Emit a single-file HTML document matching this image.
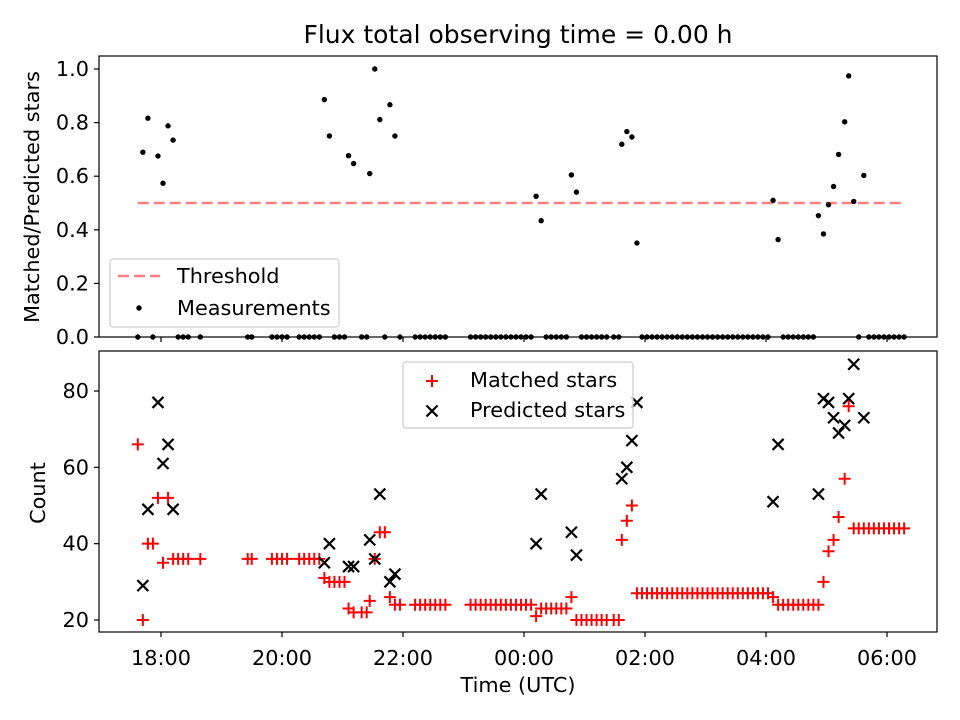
<!DOCTYPE html>
<html><head><meta charset="utf-8">
<style>
body{margin:0;background:#fff;}
svg{display:block;font-family:"DejaVu Sans","Liberation Sans",sans-serif;}
</style></head>
<body>
<svg id="chart" width="960" height="720" viewBox="0 0 960 720">
<rect x="0" y="0" width="960" height="720" fill="#fff"/>
<text x="518" y="43" font-size="25" text-anchor="middle">Flux total observing time = 0.00 h</text>
<g id="top-plot"></g>
<g id="bottom-plot"></g>
<text transform="translate(39,197) rotate(-90)" font-size="20.8" text-anchor="middle">Matched/Predicted stars</text>
<text transform="translate(45,493) rotate(-90)" font-size="20.8" text-anchor="middle">Count</text>
<text x="518" y="692" font-size="20.8" text-anchor="middle">Time (UTC)</text>
</svg>
<script>
// minutes relative to 18:00 UTC
const times = [
 -23,-18,-13,-8,-3,2,7,12,17,22,27,39,
 86,90,110,115,120,125,137,142,147,152,157,
 162,167,172,177,182,186,191,199,204,207,212,217,222,227,232,237,
 252,257,262,267,272,277,282,
 307,312,317,322,327,332,337,342,347,352,357,362,367,
 372,377,382,387,392,397,402,407,412,
 417,422,427,432,437,442,449,454,
 457,462,467,472,
 477,482,487,492,497,502,507,512,517,522,527,532,537,542,547,552,557,562,567,572,577,582,587,592,597,602,
 607,612,617,622,627,632,637,642,647,
 652,657,662,667,672,678,682,687,692,697,
 702,707,712,717,722,727,732,737];
const matched = [
 66,20,40,40,52,35,52,36,36,36,36,36,
 36,36,36,36,36,36,36,36,36,36,36,
 31,30,30,30,30,23,22,22,22,25,36,43,43,26,24,24,
 24,24,24,24,24,24,24,
 24,24,24,24,24,24,24,24,24,24,24,24,24,
 21,23,23,23,23,23,23,26,20,
 20,20,20,20,20,20,20,20,
 41,46,50,27,
 27,27,27,27,27,27,27,27,27,27,27,27,27,27,27,27,27,27,27,27,27,27,27,27,27,27,
 26,24,24,24,24,24,24,24,24,
 24,30,38,41,47,57,76,44,44,44,
 44,44,44,44,44,44,44,44];
// 0 = no prediction (ratio recorded as 0)
const predicted = [
 0,29,49,0,77,61,66,49,0,0,0,0,
 0,0,0,0,0,0,0,0,0,0,0,
 35,40,0,0,0,34,34,0,0,41,36,53,0,30,32,0,
 0,0,0,0,0,0,0,
 0,0,0,0,0,0,0,0,0,0,0,0,0,
 40,53,0,0,0,0,0,43,37,
 0,0,0,0,0,0,0,0,
 57,60,67,77,
 0,0,0,0,0,0,0,0,0,0,0,0,0,0,0,0,0,0,0,0,0,0,0,0,0,0,
 51,66,0,0,0,0,0,0,0,
 53,78,77,73,69,71,78,87,0,73,
 0,0,0,0,0,0,0,0];
const threshold = 0.5;
const xTickMinutes = [0,120,240,360,480,600,720];
const xTickLabels = ["18:00","20:00","22:00","00:00","02:00","04:00","06:00"];
const topTicks = [0.0,0.2,0.4,0.6,0.8,1.0];
const bottomTicks = [20,40,60,80];

const NS = "http://www.w3.org/2000/svg";
const L = 99, R = 937;
const xS = m => 161 + m * 60.5 / 60;
const yTop = v => 337 - v * 268;
const yBot = c => 620 - (c - 20) * (229 / 60);
function mk(tag, attrs, parent){const e=document.createElementNS(NS,tag);for(const k in attrs)e.setAttribute(k,attrs[k]);parent.appendChild(e);return e;}

const topG = document.getElementById('top-plot');
const botG = document.getElementById('bottom-plot');

const th = mk('line',{x1:xS(times[0]),x2:xS(times[times.length-1]),y1:yTop(threshold),y2:yTop(threshold),stroke:'#ff8080','stroke-width':2.4,'stroke-dasharray':'11,5'},topG);



for(let i=0;i<times.length;i++){
  const r = predicted[i] > 0 ? matched[i] / predicted[i] : 0;
  const c = mk('circle',{cx:xS(times[i]),cy:yTop(r),r:2.7,fill:'#000'},topG);
  
  
}
for(let i=0;i<times.length;i++){
  const x = xS(times[i]), y = yBot(matched[i]);
  const p = mk('path',{d:`M${x-6},${y}H${x+6}M${x},${y-6}V${y+6}`,stroke:'#ff0000','stroke-width':2,fill:'none'},botG);
  
  
}
for(let i=0;i<times.length;i++){
  if(!(predicted[i] > 0)) continue;
  const x = xS(times[i]), y = yBot(predicted[i]);
  const p = mk('path',{d:`M${x-5.5},${y-5.5}L${x+5.5},${y+5.5}M${x-5.5},${y+5.5}L${x+5.5},${y-5.5}`,stroke:'#000','stroke-width':2.2,fill:'none'},botG);
  
  
}

const f1 = mk('rect',{x:L,y:56,width:R-L,height:281,fill:'none',stroke:'#000','stroke-width':1.2},topG);


const f2 = mk('rect',{x:L,y:351,width:R-L,height:281,fill:'none',stroke:'#000','stroke-width':1.2},botG);



for(let i=0;i<xTickMinutes.length;i++){
  const x = xS(xTickMinutes[i]);
  const t1 = mk('line',{x1:x,x2:x,y1:337,y2:342,stroke:'#000','stroke-width':1.2},topG);
  
  
  const t2 = mk('line',{x1:x,x2:x,y1:632,y2:637,stroke:'#000','stroke-width':1.2},botG);
  
  
  const lb = mk('text',{x:x,y:665,'font-size':20.8,'text-anchor':'middle'},botG);
  lb.textContent = xTickLabels[i];
  
  
}
for(const v of topTicks){
  const y = yTop(v);
  const t = mk('line',{x1:L-5,x2:L,y1:y,y2:y,stroke:'#000','stroke-width':1.2},topG);
  
  
  const lb = mk('text',{x:L-10,y:y+7,'font-size':20.8,'text-anchor':'end'},topG);
  lb.textContent = v.toFixed(1);
  
  
}
for(const v of bottomTicks){
  const y = yBot(v);
  const t = mk('line',{x1:L-5,x2:L,y1:y,y2:y,stroke:'#000','stroke-width':1.2},botG);
  
  
  const lb = mk('text',{x:L-10,y:y+7,'font-size':20.8,'text-anchor':'end'},botG);
  lb.textContent = String(v);
  
  
}

const lg1 = mk('g',{},topG);


mk('rect',{x:110,y:259,width:229,height:68,rx:3,fill:'#fff','fill-opacity':0.8,stroke:'#ccc','stroke-width':1.2},lg1);
mk('line',{x1:118,x2:160,y1:276,y2:276,stroke:'#ff8080','stroke-width':2.4,'stroke-dasharray':'11,5'},lg1);
const lt1 = mk('text',{x:177,y:283,'font-size':20.8},lg1); lt1.textContent='Threshold';


mk('circle',{cx:139,cy:308,r:2.7,fill:'#000'},lg1);
const lt2 = mk('text',{x:177,y:315,'font-size':20.8},lg1); lt2.textContent='Measurements';



const lg2 = mk('g',{},botG);


mk('rect',{x:403,y:362,width:230,height:66,rx:3,fill:'#fff','fill-opacity':0.8,stroke:'#ccc','stroke-width':1.2},lg2);
mk('path',{d:'M426,381H438M432,375V387',stroke:'#ff0000','stroke-width':2},lg2);
const lt3 = mk('text',{x:470,y:387,'font-size':20.8},lg2); lt3.textContent='Matched stars';


mk('path',{d:'M426.5,405.5L437.5,416.5M426.5,416.5L437.5,405.5',stroke:'#000','stroke-width':2.2},lg2);
const lt4 = mk('text',{x:470,y:417,'font-size':20.8},lg2); lt4.textContent='Predicted stars';


</script>
</body></html>
